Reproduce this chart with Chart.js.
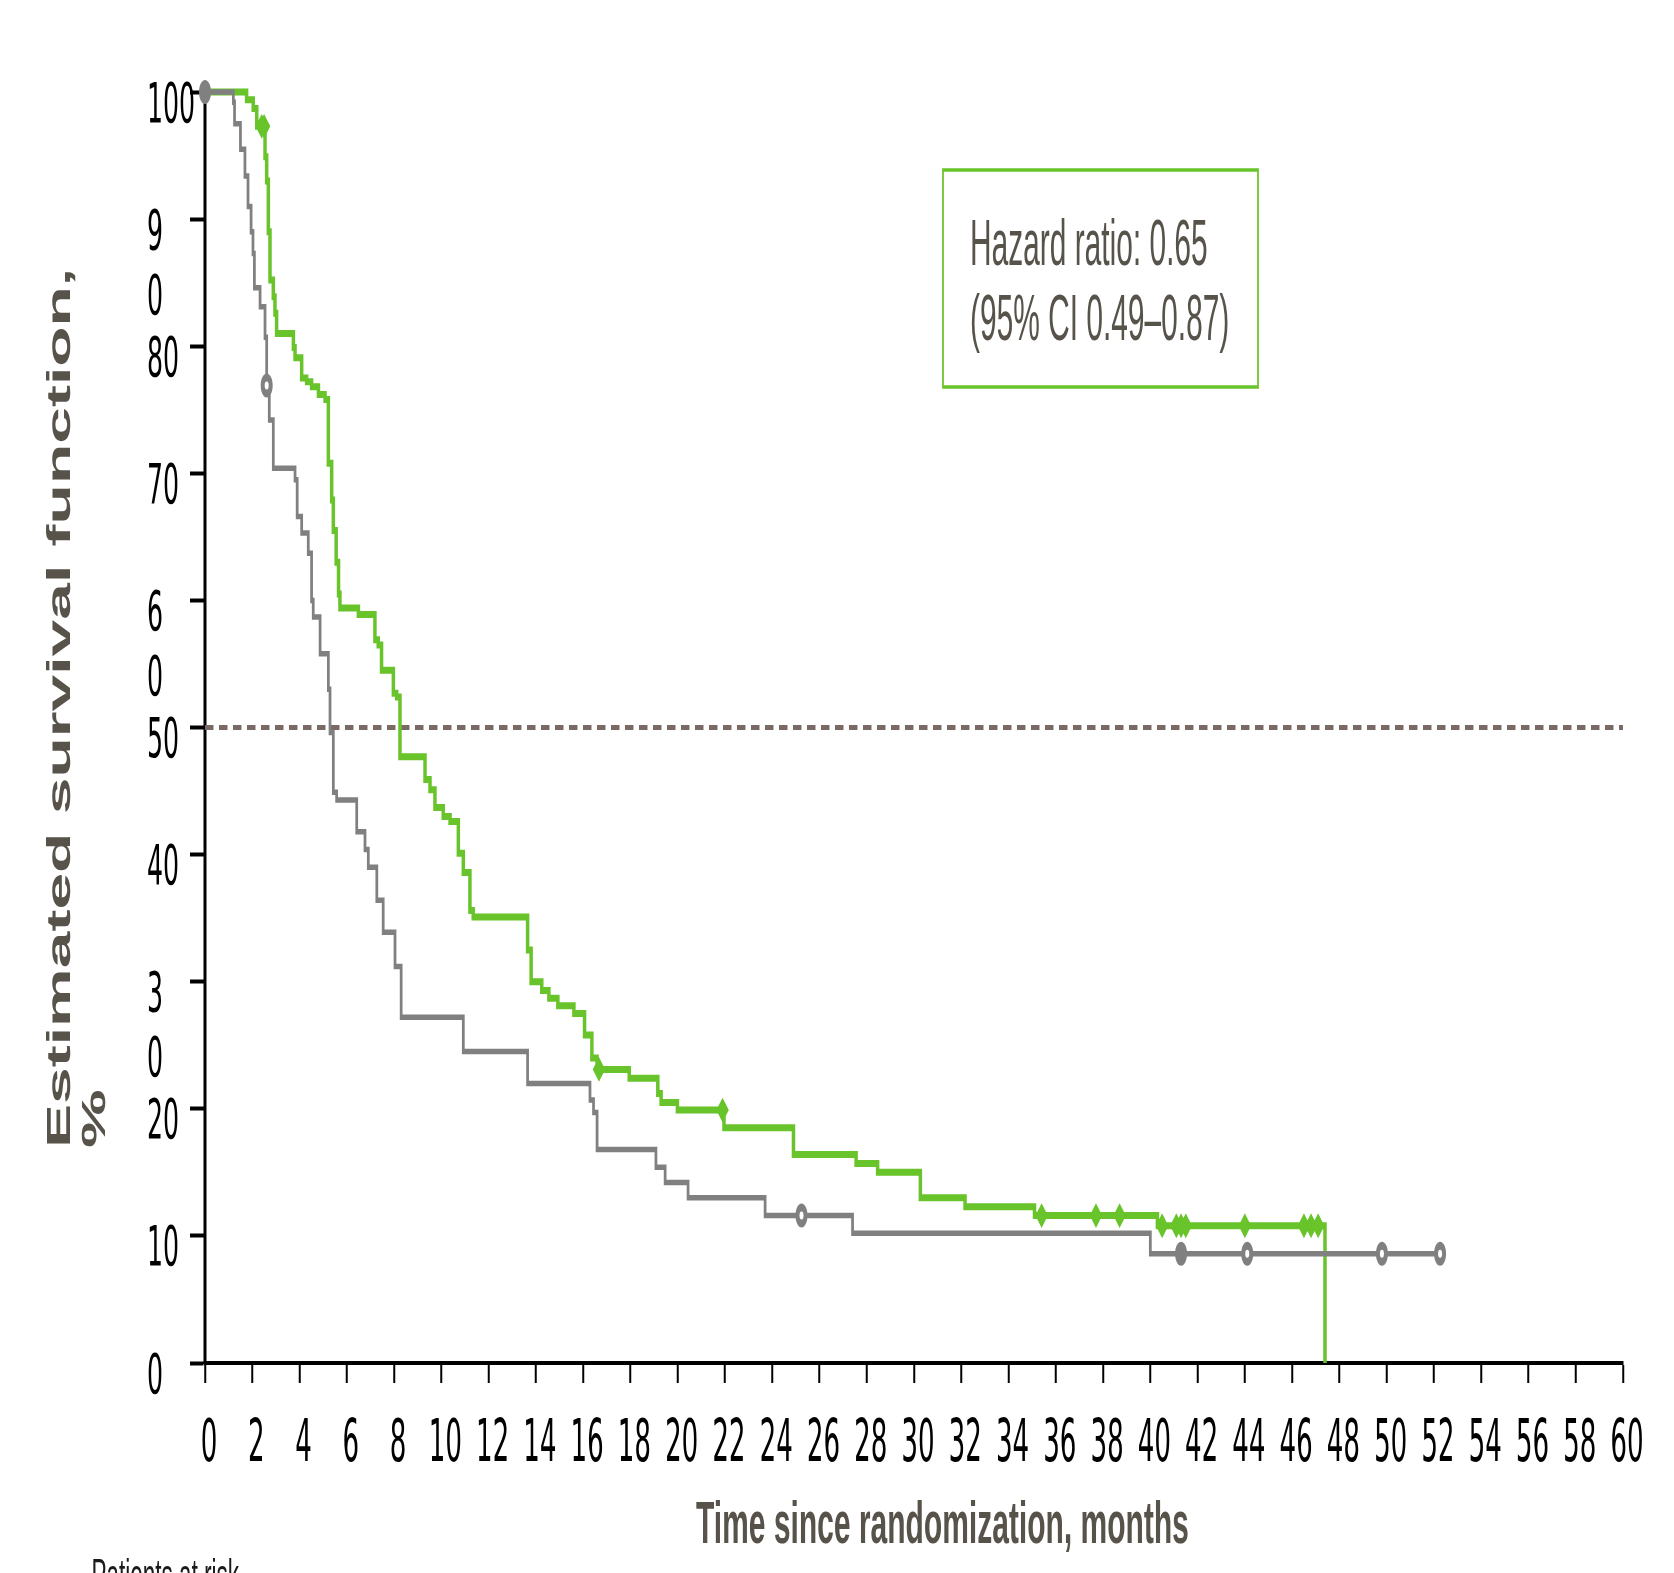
<!DOCTYPE html>
<html>
<head>
<meta charset="utf-8">
<title>Estimated survival function</title>
<script src="https://cdn.jsdelivr.net/npm/chart.js@4.4.1/dist/chart.umd.min.js"></script>
<style>
  html, body { margin: 0; padding: 0; background: #fff; overflow: hidden; }
  #wrap { width: 1674px; height: 1573px; overflow: hidden; position: relative; background: #fff; }
  /* the original figure is squeezed sideways, so the chart is drawn twice as wide and squeezed back */
  #km { transform: scaleX(0.5); transform-origin: 0 0; }
</style>
</head>
<body>
<div id="wrap"><canvas id="km" width="3348" height="1573"></canvas></div>
<script>

const monthTicks = [0, 2, 4, 6, 8, 10, 12, 14, 16, 18, 20, 22, 24, 26, 28, 30, 32, 34, 36, 38, 40, 42, 44, 46, 48, 50, 52, 54, 56, 58, 60];
const survivalTicks = [0, 10, 20, 30, 40, 50, 60, 70, 80, 90, 100];
const survivalTickLabels = ['0', '10', '20', ['', '3', '0'], '40', '50', ['', '6', '0'], '70', '80', ['', '9', '0'], '100'];

// green arm
const treatMonths = [0, 1.76, 2.04, 2.19, 2.54, 2.61, 2.68, 2.75, 2.89, 2.96, 3.03, 3.74, 3.81, 4.09, 4.30, 4.51, 4.80, 5.08, 5.22, 5.36,
  5.43, 5.55, 5.65, 5.71, 6.49, 7.19, 7.33, 7.47, 7.97, 8.11, 8.25, 9.31, 9.52, 9.73, 10.08, 10.37, 10.72, 10.93, 11.21, 11.35,
  13.65, 13.80, 14.25, 14.55, 14.93, 15.61, 16.06, 16.37, 16.59, 17.95, 19.16, 19.30, 19.99, 21.96, 24.90, 27.55, 28.46, 30.27, 32.16, 35.10,
  40.30, 47.39];
const treatSurvival = [100, 99.4, 98.7, 97.3, 94.9, 93.0, 89.0, 85.2, 83.9, 82.6, 81.0, 79.9, 79.1, 77.5, 77.2, 76.8, 76.2, 75.8, 70.8, 67.9,
  65.5, 63.0, 60.5, 59.4, 58.9, 56.9, 56.5, 54.5, 52.7, 52.4, 47.7, 45.9, 45.1, 43.7, 43.0, 42.6, 40.1, 38.6, 35.6, 35.1,
  32.5, 30.0, 29.3, 28.7, 28.1, 27.5, 25.8, 24.0, 23.1, 22.4, 21.2, 20.5, 19.9, 18.5, 16.4, 15.7, 15.0, 13.0, 12.3, 11.6,
  10.8, 0];
const treatCensorMonths = [2.40, 2.50, 16.67, 21.90, 35.40, 37.70, 38.70, 40.50, 41.10, 41.30, 41.50, 44.00, 46.50, 46.80, 47.10];
const treatCensorSurvival = [97.3, 97.3, 23.1, 19.9, 11.6, 11.6, 11.6, 10.8, 10.8, 10.8, 10.8, 10.8, 10.8, 10.8, 10.8];

// grey arm
const controlMonths = [0, 1.20, 1.25, 1.50, 1.69, 1.82, 1.95, 2.03, 2.09, 2.33, 2.54, 2.61, 2.72, 2.89, 3.81, 3.90, 4.09, 4.37, 4.51, 4.58,
  4.87, 5.22, 5.29, 5.43, 5.57, 6.42, 6.77, 6.91, 7.27, 7.54, 8.04, 8.30, 10.93, 13.65, 16.29, 16.44, 16.59, 19.08, 19.47, 20.44,
  23.70, 27.40, 40.00, 52.26];
const controlSurvival = [100, 99.2, 97.5, 95.5, 93.4, 91.0, 89.0, 87.3, 84.6, 83.1, 80.7, 76.9, 74.2, 70.4, 69.5, 66.6, 65.3, 63.7, 60.0, 58.7,
  55.8, 53.0, 49.6, 44.9, 44.3, 41.8, 40.4, 39.0, 36.4, 33.9, 31.2, 27.2, 24.5, 22.0, 20.7, 19.7, 16.8, 15.4, 14.2, 13.0,
  11.6, 10.2, 8.6, 8.6];
const controlCensorMonths = [0, 2.61, 25.24, 41.30, 44.10, 49.80, 52.26];
const controlCensorSurvival = [100, 76.9, 11.6, 8.6, 8.6, 8.6, 8.6];
const controlCensorFilled = [true, false, false, true, false, false, false];

const medianLine = 50;
const hazardText = ['Hazard ratio: 0.65', '(95% CI 0.49\u20130.87)'];
const yTitle = ['Estimated survival function,', '%'];
const xTitle = 'Time since randomization, months';
const riskTitle = 'Patients at risk';

const green = '#68c42a';
const grey = '#808080';
const textGrey = '#57534a';
const narrow = "'Liberation Sans Narrow', 'Arial Narrow', 'DejaVu Sans Condensed', 'Liberation Sans', sans-serif";
const sans = "'Liberation Sans', Arial, sans-serif";

function points(xs, ys) {
  return xs.map((x, i) => ({x: x, y: ys[i]}));
}

const figureText = {
  id: 'figureText',
  afterDraw(chart) {
    const ctx = chart.ctx;
    ctx.save();

    // y title, rotated, both lines start at the same place
    ctx.save();
    ctx.fillStyle = textGrey;
    ctx.font = 'bold 66px ' + sans;
    ctx.textAlign = 'left';
    ctx.textBaseline = 'alphabetic';
    ctx.translate(140, 1148);
    ctx.rotate(-Math.PI / 2);
    ctx.fillText(yTitle[0], 0, 0);
    ctx.fillText(yTitle[1], 0, 70);
    ctx.restore();

    // x title
    ctx.fillStyle = textGrey;
    ctx.font = 'bold 60px ' + sans;
    ctx.textAlign = 'left';
    ctx.textBaseline = 'alphabetic';
    ctx.fillText(xTitle, 1392, 1543);

    // hazard ratio box
    ctx.strokeStyle = green;
    ctx.lineWidth = 3.5;
    ctx.strokeRect(1886, 170, 630, 217);
    ctx.save();
    ctx.translate(1940, 0);
    ctx.scale(0.92, 1);
    ctx.font = '65px ' + sans;
    ctx.fillText(hazardText[0], 0, 265);
    ctx.fillText(hazardText[1], 0, 340);
    ctx.restore();

    // start of the table below, cut by the page edge
    ctx.fillStyle = '#1a1a1a';
    ctx.font = '45px ' + sans;
    ctx.fillText(riskTitle, 183, 1590);

    ctx.restore();
  }
};

const cfg = {
  type: 'line',
  data: {
    datasets: [{
      label: 'control censored',
      data: points(controlCensorMonths, controlCensorSurvival),
      showLine: false,
      clip: false,
      pointStyle: 'circle',
      pointRadius: 8,
      pointBorderWidth: 8,
      pointBorderColor: grey,
      pointBackgroundColor: controlCensorFilled.map(f => f ? grey : '#fff')
    }, {
      label: 'treatment censored',
      data: points(treatCensorMonths, treatCensorSurvival),
      showLine: false,
      clip: false,
      pointStyle: 'rectRot',
      pointRadius: 11,
      pointBorderWidth: 2,
      pointBorderColor: green,
      pointBackgroundColor: green
    }, {
      label: 'control',
      data: points(controlMonths, controlSurvival),
      stepped: 'before',
      borderColor: grey,
      borderWidth: 5.5,
      pointRadius: 0,
      fill: false,
      clip: false
    }, {
      label: 'treatment',
      data: points(treatMonths, treatSurvival),
      stepped: 'before',
      borderColor: green,
      borderWidth: 7,
      pointRadius: 0,
      fill: false,
      clip: false
    }, {
      label: 'median',
      data: points([0, 60], [medianLine, medianLine]),
      borderColor: '#7a6a64',
      borderWidth: 5,
      borderDash: [17, 11],
      pointRadius: 0,
      fill: false
    }]
  },
  options: {
    responsive: false,
    maintainAspectRatio: false,
    devicePixelRatio: 1,
    animation: false,
    events: [],
    layout: {padding: {left: 294, right: 102, top: 92, bottom: 0}},
    plugins: {legend: {display: false}, tooltip: {enabled: false}, title: {display: false}},
    scales: {
      x: {
        type: 'linear',
        min: 0,
        max: 60,
        afterFit: s => { s.height = 210; },
        afterBuildTicks: s => { s.ticks = monthTicks.map(v => ({value: v})); },
        grid: {drawOnChartArea: false, drawTicks: true, tickLength: 20, tickWidth: 4, tickColor: '#000'},
        border: {display: true, width: 4, color: '#000'},
        ticks: {
          autoSkip: false,
          maxRotation: 0,
          padding: 28,
          labelOffset: 8,
          color: '#000',
          font: {family: narrow, size: 58}
        }
      },
      y: {
        type: 'linear',
        min: 0,
        max: 100,
        afterFit: s => { s.width = 116; },
        afterBuildTicks: s => { s.ticks = survivalTicks.map(v => ({value: v})); },
        grid: {drawOnChartArea: false, drawTicks: true, tickLength: 30, tickWidth: 4, tickColor: '#000'},
        border: {display: true, width: 6, color: '#000'},
        ticks: {
          autoSkip: false,
          crossAlign: 'far',
          labelOffset: 15,
          color: '#000',
          font: {family: narrow, size: 56, lineHeight: '65px'},
          callback: (v, i) => survivalTickLabels[i]
        }
      }
    }
  },
  plugins: [figureText]
};

let chart = new Chart(document.getElementById('km'), cfg);

</script>
</body>
</html>
